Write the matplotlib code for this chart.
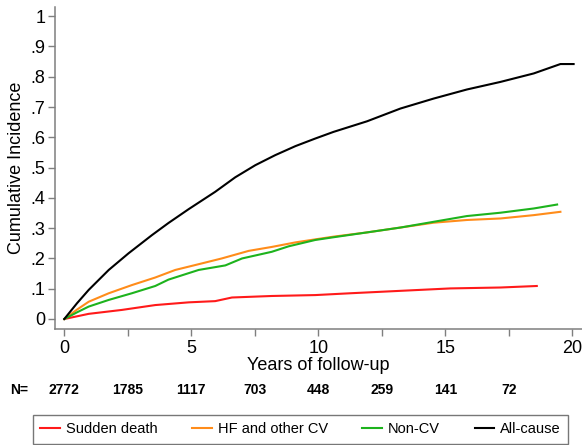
import numpy as np
from matplotlib import pyplot as plt
import matplotlib.transforms as mtransforms

plt.rcParams['font.family'] = ['Liberation Sans', 'DejaVu Sans']

# curves (years, cumulative incidence)
t_all = [0, 0.5, 0.96, 1.75, 2.53, 3.45, 4.1, 4.9, 5.94, 6.73, 7.52, 8.3, 9.1, 9.88,
         10.6, 11.92, 13.23, 14.54, 15.85, 17.17, 18.48, 19.53, 20.05]
v_all = [0, 0.052, 0.096, 0.162, 0.217, 0.277, 0.317, 0.363, 0.42, 0.468, 0.508, 0.541,
         0.571, 0.596, 0.618, 0.653, 0.695, 0.728, 0.758, 0.783, 0.811, 0.842, 0.842]

t_hf = [0, 0.5, 0.96, 1.75, 2.66, 3.58, 4.37, 5.29, 6.2, 7.26, 8.17, 9.1, 9.88,
        10.6, 11.92, 13.23, 14.54, 15.85, 17.17, 18.48, 19.53]
v_hf = [0, 0.031, 0.057, 0.085, 0.112, 0.137, 0.162, 0.181, 0.2, 0.225, 0.238, 0.253, 0.263,
        0.272, 0.286, 0.302, 0.318, 0.327, 0.332, 0.343, 0.354]

t_ncv = [0, 0.5, 0.96, 1.75, 2.66, 3.58, 4.1, 5.29, 6.34, 7.0, 8.17, 8.83, 9.88,
         10.6, 11.92, 13.23, 14.54, 15.85, 17.17, 18.48, 19.4]
v_ncv = [0, 0.022, 0.041, 0.063, 0.085, 0.109, 0.13, 0.162, 0.177, 0.2, 0.222, 0.24, 0.261,
         0.27, 0.286, 0.302, 0.321, 0.34, 0.351, 0.365, 0.378]

t_sd = [0, 0.96, 2.27, 3.58, 4.9, 5.94, 6.6, 8.17, 9.88, 11.26, 13.23, 15.2, 17.17, 18.6]
v_sd = [0, 0.017, 0.03, 0.046, 0.055, 0.059, 0.071, 0.076, 0.079, 0.085, 0.093, 0.101, 0.104, 0.109]

n_times = [0, 2.5, 5, 7.5, 10, 12.5, 15, 17.5]
n_risk = [2772, 1785, 1117, 703, 448, 259, 141, 72]

y_ticks = [0, 0.1, 0.2, 0.3, 0.4, 0.5, 0.6, 0.7, 0.8, 0.9, 1.0]
y_labels = ["0", ".1", ".2", ".3", ".4", ".5", ".6", ".7", ".8", ".9", "1"]

fig = plt.figure(figsize=(5.82, 4.45), dpi=100)
ax = fig.add_axes([0.0945, 0.2607, 0.9055, 0.7233])

lw = 1.5
ax.plot(t_sd, v_sd, color="#ff1a1a", lw=lw, label="Sudden death")
ax.plot(t_hf, v_hf, color="#ff8c1a", lw=lw, label="HF and other CV")
ax.plot(t_ncv, v_ncv, color="#1db31d", lw=lw, label="Non-CV")
ax.plot(t_all, v_all, color="black", lw=lw, label="All-cause")

ax.set_xlim(-0.366, 20.38)
ax.set_ylim(-0.033, 1.03)

ax.set_xticks([0, 5, 10, 15, 20])
ax.set_xticks([2.5, 7.5, 12.5, 17.5], minor=True)
ax.set_yticks(y_ticks)
ax.set_yticklabels(y_labels)

for side in ["top", "right"]:
    ax.spines[side].set_visible(False)
for side in ["left", "bottom"]:
    ax.spines[side].set_color("#7f7f7f")
    ax.spines[side].set_linewidth(1.1)

ax.tick_params(which="both", direction="out", length=5, width=1, color="#7f7f7f",
               labelsize=13, pad=2)
ax.tick_params(axis="x", which="both", pad=3)

ax.set_xlabel("Years of follow-up", fontsize=13, labelpad=0)
ax.set_ylabel("Cumulative Incidence", fontsize=13, labelpad=4)

# numbers at risk below the axis
trans = mtransforms.blended_transform_factory(ax.transData, fig.transFigure)
ny = 1 - 390 / 445
fig.text(19 / 582, ny, "N=", fontsize=10, fontweight="bold", ha="center", va="center")
for t, n in zip(n_times, n_risk):
    ax.text(t, ny, str(n), transform=trans, fontsize=10, fontweight="bold",
            ha="center", va="center")

handles, labels = ax.get_legend_handles_labels()
leg = fig.legend(handles, labels, loc="lower left", ncol=4, mode="expand",
                 bbox_to_anchor=(33 / 582, 1 - 443.5 / 445, 535 / 582, 27.5 / 445),
                 fontsize=10.5, frameon=True, fancybox=False, edgecolor="#555555",
                 handlelength=1.35, handletextpad=0.4, columnspacing=1.0,
                 borderpad=0.5, borderaxespad=0)
leg.get_frame().set_linewidth(1.0)

fig.savefig("out.png", dpi=100)
